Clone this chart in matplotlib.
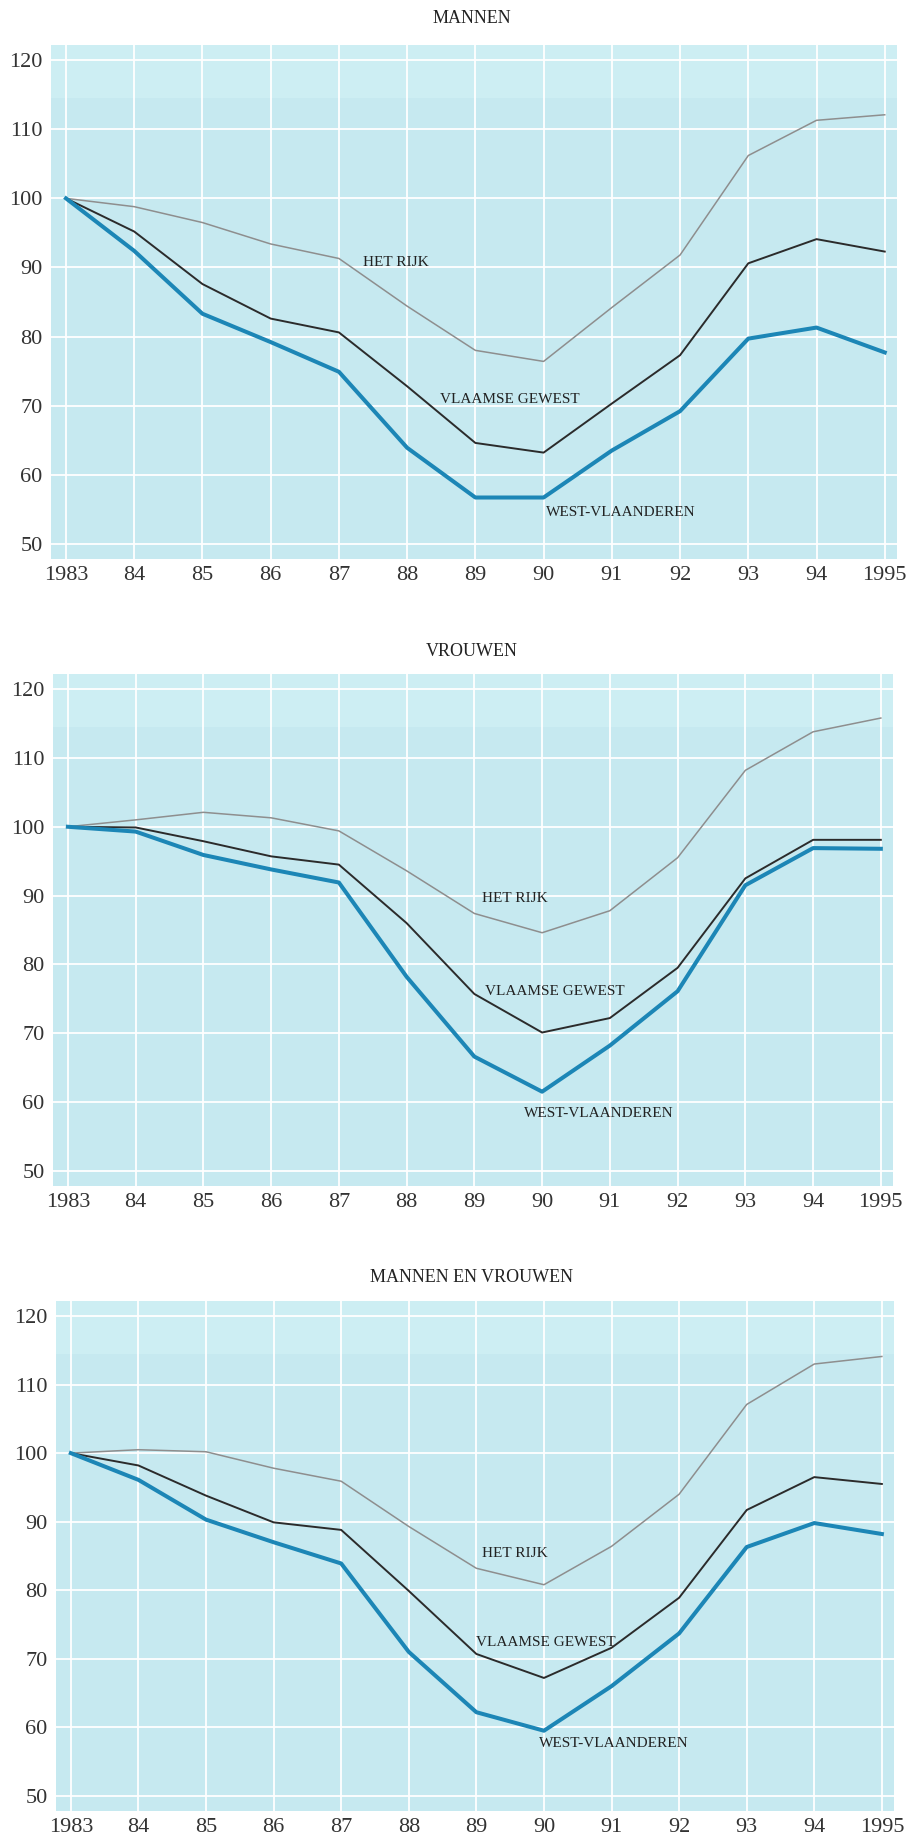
import matplotlib
matplotlib.use('Agg')
from matplotlib import pyplot as plt

plt.rcParams['font.family'] = ['Liberation Serif', 'DejaVu Serif']

# jaartallen en labels
years = list(range(1983, 1996))
year_labels = ['1983', '84', '85', '86', '87', '88', '89', '90', '91', '92', '93', '94', '1995']

titles = ['MANNEN', 'VROUWEN', 'MANNEN EN VROUWEN']

# indexcijfers (1983 = 100)
rijk_mannen = [100, 98.8, 96.5, 93.4, 91.3, 84.4, 78.0, 76.4, 84.2, 91.8, 106.2, 111.3, 112.1]
vlaams_mannen = [100, 95.2, 87.6, 82.6, 80.6, 72.8, 64.6, 63.2, 70.3, 77.3, 90.6, 94.1, 92.3]
west_mannen = [100, 92.4, 83.3, 79.2, 74.9, 63.9, 56.7, 56.7, 63.5, 69.2, 79.7, 81.3, 77.7]

rijk_vrouwen = [100, 101.0, 102.1, 101.3, 99.4, 93.6, 87.4, 84.6, 87.8, 95.5, 108.2, 113.8, 115.8]
vlaams_vrouwen = [100, 99.9, 97.9, 95.7, 94.5, 86.0, 75.7, 70.1, 72.2, 79.5, 92.5, 98.1, 98.1]
west_vrouwen = [100, 99.3, 95.9, 93.8, 91.9, 78.2, 66.6, 61.5, 68.2, 76.1, 91.5, 96.9, 96.8]

rijk_totaal = [100, 100.5, 100.2, 97.8, 95.9, 89.3, 83.2, 80.8, 86.4, 94.0, 107.1, 113.0, 114.1]
vlaams_totaal = [100, 98.2, 93.8, 89.9, 88.8, 79.9, 70.7, 67.2, 71.6, 78.9, 91.7, 96.5, 95.5]
west_totaal = [100, 96.1, 90.3, 87.0, 83.9, 71.0, 62.2, 59.5, 66.0, 73.7, 86.3, 89.8, 88.2]

series = [
    (rijk_mannen, vlaams_mannen, west_mannen),
    (rijk_vrouwen, vlaams_vrouwen, west_vrouwen),
    (rijk_totaal, vlaams_totaal, west_totaal),
]

# posities van de labels in de grafiek (x, y in data)
label_pos = [
    [(1987.36, 90.7), (1988.48, 70.9), (1990.03, 54.6)],
    [(1989.12, 89.6), (1989.15, 76.0), (1989.73, 58.3)],
    [(1989.09, 85.3), (1989.0, 72.4), (1989.93, 57.6)],
]
label_text = ['HET RIJK', 'VLAAMSE GEWEST', 'WEST-VLAANDEREN']

# assen: [left, bottom, width, height] in figuurfracties
boxes = [
    [0.0562, 0.6957, 0.9328, 0.2798],
    [0.0584, 0.3544, 0.9262, 0.2787],
    [0.0617, 0.0142, 0.9240, 0.2776],
]
title_y = [0.9897, 0.6451, 0.3044]

fig = plt.figure(figsize=(9.07, 18.37), dpi=100)

bg = '#c6e9f0'
strip = '#cdeef3'

for i in range(3):
    ax = fig.add_axes(boxes[i])
    ax.set_facecolor(bg)
    ax.set_xlim(1982.78, 1995.18)
    ax.set_ylim(47.8, 122.2)
    ax.axhspan(114.5, 122.2, color=strip, lw=0, zorder=0)

    ax.set_xticks(years)
    ax.set_xticklabels(year_labels)
    ax.set_yticks(range(50, 121, 10))
    ax.grid(True, color='white', lw=1.3, zorder=1)
    ax.set_axisbelow(True)
    ax.tick_params(length=0, labelsize=16, colors='#333333')
    ax.tick_params(axis='x', pad=5)
    ax.tick_params(axis='y', pad=6)
    for s in ax.spines.values():
        s.set_visible(False)

    rijk, vlaams, west = series[i]
    ax.plot(years, rijk, color='#8e8e8e', lw=1.1, zorder=3)
    ax.plot(years, vlaams, color='#2b2b2b', lw=1.4, zorder=4)
    ax.plot(years, west, color='#1c86b6', lw=2.9, zorder=5)

    for (x, y), t in zip(label_pos[i], label_text):
        ax.text(x, y, t, fontsize=11, color='#222222', va='center', ha='left', zorder=6)

    fig.text(0.52, title_y[i], titles[i], fontsize=13, color='#222222', ha='center', va='center')

fig.savefig('out.png', dpi=100, facecolor='white')
